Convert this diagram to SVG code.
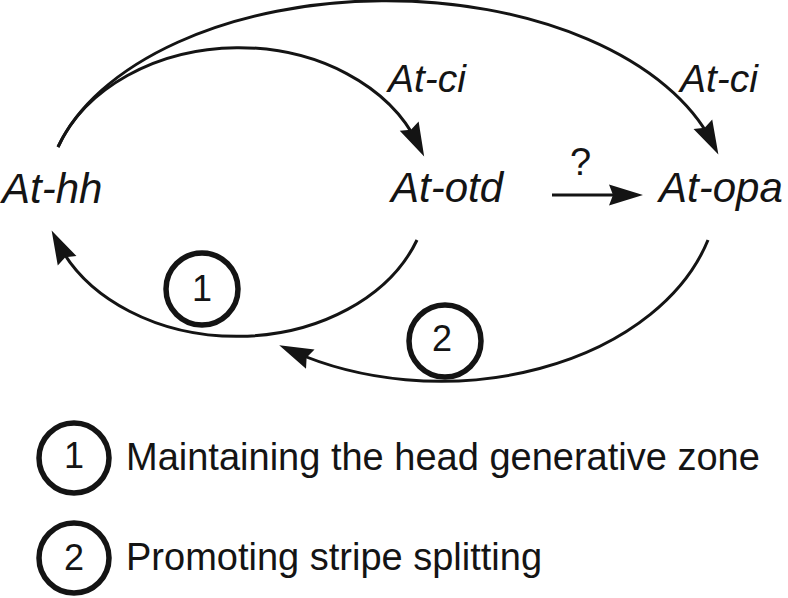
<svg xmlns="http://www.w3.org/2000/svg" width="788" height="598" viewBox="0 0 788 598">
<style>
.gene{font-family:"Liberation Sans",Arial,sans-serif;font-style:italic;font-size:42px;fill:#141414}
.ci{font-family:"Liberation Sans",Arial,sans-serif;font-style:italic;font-size:39px;fill:#141414}
.plain{font-family:"Liberation Sans",Arial,sans-serif;font-size:38px;fill:#141414}
.num{font-family:"Liberation Sans",Arial,sans-serif;font-size:36px;fill:#141414;text-anchor:middle}
.edge{fill:none;stroke:#141414;stroke-width:3;marker-end:url(#ah)}
.badge{fill:#fff;stroke:#141414;stroke-width:5.5}
</style>
<defs>
<marker id="ah" markerUnits="userSpaceOnUse" viewBox="0 -12 40 24" markerWidth="40" markerHeight="24" refX="20" refY="0" orient="auto" overflow="visible">
<path d="M0,-10.5 L34,0 L0,10.5 L4,0 Z" fill="#141414"/>
</marker>
</defs>
<g id="connectors">
<path class="edge" d="M58,147 A340,198 0 0,1 712,142"/>
<path class="edge" d="M58,147 A192,150 0 0,1 418,144"/>
<path class="edge" d="M417,240 A192,147 0 0,1 58,243"/>
<path class="edge" d="M708,240 A278,195 0 0,1 292,351"/>
<path class="edge" d="M552,195 L629,195"/>
</g>
<g id="node-hh"><text class="gene" x="2" y="203">At-hh</text></g>
<g id="node-otd"><text class="gene" x="391" y="202">At-otd</text></g>
<g id="node-opa"><text class="gene" x="659" y="202">At-opa</text></g>
<g id="label-ci1"><text class="ci" x="388" y="92">At-ci</text></g>
<g id="label-ci2"><text class="ci" x="680" y="92">At-ci</text></g>
<g id="label-q"><text class="plain" x="570" y="175" font-size="40">?</text></g>
<g id="badge-1"><circle class="badge" cx="202" cy="289" r="36"/><text class="num" x="202" y="301">1</text></g>
<g id="badge-2"><circle class="badge" cx="445" cy="341" r="36"/><text class="num" x="442" y="351">2</text></g>
<g id="legend-1"><circle class="badge" cx="74" cy="458" r="35"/><text class="num" x="74" y="468">1</text><text class="plain" x="126" y="470">Maintaining the head generative zone</text></g>
<g id="legend-2"><circle class="badge" cx="74" cy="558" r="35"/><text class="num" x="74" y="570">2</text><text class="plain" x="126" y="570">Promoting stripe splitting</text></g>
</svg>
